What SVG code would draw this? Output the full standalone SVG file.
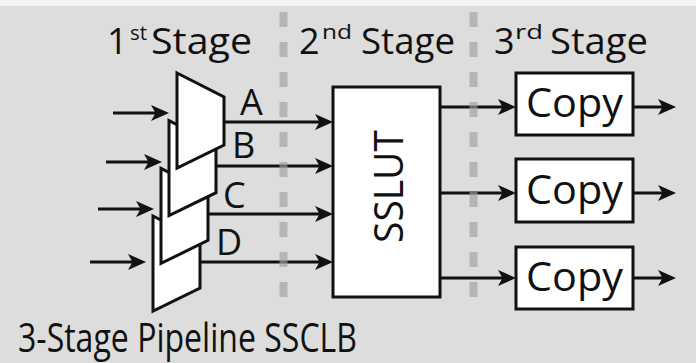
<svg xmlns="http://www.w3.org/2000/svg" width="696" height="363" viewBox="0 0 696 363">
  <defs>
    <marker id="arrow" markerUnits="userSpaceOnUse" viewBox="0 0 18 16" refX="14" refY="8" markerWidth="18" markerHeight="16" orient="auto">
      <path d="M0,0 L18,8 L0,16 L4.5,8 Z" fill="#111"/>
    </marker>
  </defs>
  <style>
    text { font-family: "Open Sans", "Noto Sans", "Liberation Sans", sans-serif; fill: #111; }
    .block { fill: #fff; stroke: #111; stroke-width: 3; stroke-linejoin: miter; }
    .wire { fill: none; stroke: #111; stroke-width: 3; marker-end: url(#arrow); }
    .divider { fill: none; stroke: #a0a0a0; stroke-opacity: 0.65; stroke-width: 8; stroke-dasharray: 15 15; }
    .head { font-size: 36px; }
    .sup { font-size: 20px; }
    .port { font-size: 36px; }
    .copy { font-size: 40px; }
  </style>

  <!-- backdrop -->
  <rect x="0" y="0" width="696" height="363" fill="#f4f4f4"/>
  <rect x="0" y="6" width="696" height="357" fill="#dcdddc"/>

  <!-- stage headings -->
  <g id="heading-stage1">
    <text class="head" x="107" y="54">1</text>
    <text class="sup" x="130" y="40" textLength="17" lengthAdjust="spacingAndGlyphs">st</text>
    <text class="head" x="151" y="54" textLength="101" lengthAdjust="spacingAndGlyphs">Stage</text>
  </g>
  <g id="heading-stage2">
    <text class="head" x="299" y="54">2</text>
    <text class="sup" x="322" y="39" textLength="30" lengthAdjust="spacingAndGlyphs">nd</text>
    <text class="head" x="361" y="54" textLength="94" lengthAdjust="spacingAndGlyphs">Stage</text>
  </g>
  <g id="heading-stage3">
    <text class="head" x="494" y="54">3</text>
    <text class="sup" x="515" y="39" textLength="28" lengthAdjust="spacingAndGlyphs">rd</text>
    <text class="head" x="550" y="54" textLength="98" lengthAdjust="spacingAndGlyphs">Stage</text>
  </g>

  <!-- stage 1: stacked multiplexers (back to front) -->
  <g id="mux-d">
    <polygon class="block" points="153,216 200,240 200,288 153,311"/>
  </g>
  <g id="mux-c">
    <polygon class="block" points="161,168.4 208,192.4 208,240.4 161,263.4"/>
  </g>
  <g id="mux-b">
    <polygon class="block" points="169,120.7 216,144.7 216,192.7 169,215.7"/>
  </g>
  <g id="mux-a">
    <polygon class="block" points="177,73 224,97 224,145 177,168"/>
  </g>

  <!-- stage 2 -->
  <g id="sslut">
    <rect class="block" x="333" y="87" width="107" height="210"/>
    <text transform="translate(403,243) rotate(-90)" x="0" y="0" font-size="40" textLength="113" lengthAdjust="spacingAndGlyphs">SSLUT</text>
  </g>

  <!-- stage 3 -->
  <g id="copy-1">
    <rect class="block" x="516" y="73" width="117" height="62"/>
    <text class="copy" x="526" y="117" textLength="97" lengthAdjust="spacingAndGlyphs">Copy</text>
  </g>
  <g id="copy-2">
    <rect class="block" x="516" y="159" width="117" height="63"/>
    <text class="copy" x="526" y="204" textLength="97" lengthAdjust="spacingAndGlyphs">Copy</text>
  </g>
  <g id="copy-3">
    <rect class="block" x="516" y="247" width="117" height="62"/>
    <text class="copy" x="526" y="291" textLength="97" lengthAdjust="spacingAndGlyphs">Copy</text>
  </g>

  <!-- connectors -->
  <g id="connectors">
    <!-- inputs to the multiplexers -->
    <line class="wire" x1="113" y1="113" x2="165" y2="113"/>
    <line class="wire" x1="106" y1="162" x2="158" y2="162"/>
    <line class="wire" x1="98" y1="209" x2="150" y2="209"/>
    <line class="wire" x1="90" y1="262" x2="142" y2="262"/>
    <!-- multiplexer outputs A-D into SSLUT -->
    <line class="wire" x1="224" y1="122" x2="329" y2="122"/>
    <line class="wire" x1="216" y1="166" x2="329" y2="166"/>
    <line class="wire" x1="208" y1="214" x2="329" y2="214"/>
    <line class="wire" x1="200" y1="262" x2="329" y2="262"/>
    <!-- SSLUT to copies -->
    <line class="wire" x1="440" y1="107" x2="512" y2="107"/>
    <line class="wire" x1="440" y1="193" x2="512" y2="193"/>
    <line class="wire" x1="440" y1="278" x2="512" y2="278"/>
    <!-- copy outputs -->
    <line class="wire" x1="633" y1="107" x2="672" y2="107"/>
    <line class="wire" x1="633" y1="193" x2="672" y2="193"/>
    <line class="wire" x1="633" y1="278" x2="672" y2="278"/>
  </g>

  <!-- port labels -->
  <g id="port-labels">
    <text class="port" x="240" y="115">A</text>
    <text class="port" x="232" y="158">B</text>
    <text class="port" x="223" y="208">C</text>
    <text class="port" x="216" y="255">D</text>
  </g>

  <!-- stage boundaries -->
  <g id="stage-dividers">
    <line class="divider" x1="283.5" y1="12" x2="283.5" y2="312"/>
    <line class="divider" x1="473.5" y1="12" x2="473.5" y2="312"/>
  </g>

  <!-- caption -->
  <g id="caption">
    <text x="18" y="352" font-size="41" textLength="339" lengthAdjust="spacingAndGlyphs">3-Stage Pipeline SSCLB</text>
  </g>
</svg>
